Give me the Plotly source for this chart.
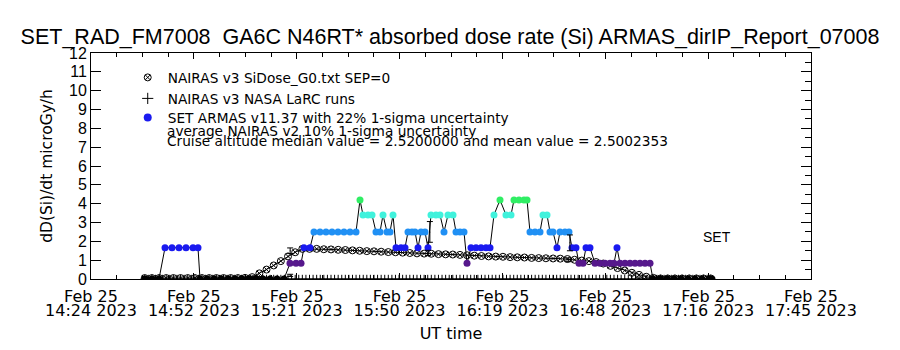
import plotly.graph_objects as go

# ---------------- data (x = minutes after 14:24 UT, 25 Feb 2023) ----------------
tick_pos = [0, 28.714, 57.429, 86.143, 114.857, 143.571, 172.286, 201]
tick_date = ["Feb 25", "Feb 25", "Feb 25", "Feb 25", "Feb 25", "Feb 25", "Feb 25", "Feb 25"]
tick_time = ["14:24 2023", "14:52 2023", "15:21 2023", "15:50 2023",
             "16:19 2023", "16:48 2023", "17:16 2023", "17:45 2023"]
y_ticks = [0, 1, 2, 3, 4, 5, 6, 7, 8, 9, 10, 11, 12]

# NAIRAS v3 SiDose_G0 profile
nairas_t = [15, 17, 19, 21, 23, 25, 27, 29, 31, 33, 35, 37, 39, 41, 43, 45, 47, 49, 51, 53,
            55, 57, 59, 61, 63, 65, 67, 69, 71, 73, 75, 77, 79, 81, 83, 85, 87, 89, 91, 93,
            95, 97, 99, 101, 103, 105, 107, 109, 111, 113, 115, 117, 119, 121, 123, 125, 127, 129, 131, 133,
            135, 137, 139, 141, 143, 145, 147, 149, 151, 153, 155, 157, 159, 161, 163, 165, 167, 169, 171, 173]
nairas_v = [0.05, 0.05, 0.05, 0.05, 0.05, 0.05, 0.05, 0.05, 0.05, 0.05, 0.05, 0.05, 0.05, 0.05, 0.06, 0.10, 0.30, 0.50, 0.72, 0.95,
            1.20, 1.42, 1.60, 1.60, 1.60, 1.58, 1.57, 1.55, 1.54, 1.52, 1.50, 1.48, 1.47, 1.45, 1.43, 1.42, 1.40, 1.38, 1.36, 1.35,
            1.34, 1.32, 1.31, 1.30, 1.28, 1.26, 1.24, 1.22, 1.20, 1.19, 1.18, 1.16, 1.15, 1.14, 1.12, 1.11, 1.10, 1.09, 1.08, 1.06,
            1.02, 0.98, 0.95, 0.90, 0.82, 0.70, 0.58, 0.45, 0.33, 0.22, 0.12, 0.06, 0.03, 0.03, 0.03, 0.03, 0.03, 0.03, 0.03, 0.03]

# NAIRAS v3 NASA LaRC runs (plotted at zero level)
larc_t = [15, 16, 17, 18, 19, 20, 21, 22, 23, 24, 25, 26, 27, 28, 29, 30, 31, 32, 33, 34,
          35, 36, 37, 38, 39, 40, 41, 42, 43, 44, 45, 46, 47, 48, 49, 50, 51, 52, 53, 54,
          55, 56, 57, 58, 59, 60, 61, 62, 63, 64, 65, 66, 67, 68, 69, 70, 71, 72, 73, 74,
          75, 76, 77, 78, 79, 80, 81, 82, 83, 84, 85, 86, 87, 88, 89, 90, 91, 92, 93, 94,
          95, 96, 97, 98, 99, 100, 101, 102, 103, 104, 105, 106, 107, 108, 109, 110, 111, 112, 113, 114,
          115, 116, 117, 118, 119, 120, 121, 122, 123, 124, 125, 126, 127, 128, 129, 130, 131, 132, 133, 134,
          135, 136, 137, 138, 139, 140, 141, 142, 143, 144, 145, 146, 147, 148, 149, 150, 151, 152, 153, 154,
          155, 156, 157, 158, 159, 160, 161, 162, 163, 164, 165, 166, 167, 168, 169, 170, 171, 172, 173]
larc_v = [0, 0, 0, 0, 0, 0, 0, 0, 0, 0, 0, 0, 0, 0, 0, 0, 0, 0, 0, 0,
          0, 0, 0, 0, 0, 0, 0, 0, 0, 0, 0, 0, 0, 0, 0, 0, 0, 0, 0, 0,
          0, 0, 0, 0, 0, 0, 0, 0, 0, 0, 0, 0, 0, 0, 0, 0, 0, 0, 0, 0,
          0, 0, 0, 0, 0, 0, 0, 0, 0, 0, 0, 0, 0, 0, 0, 0, 0, 0, 0, 0,
          0, 0, 0, 0, 0, 0, 0, 0, 0, 0, 0, 0, 0, 0, 0, 0, 0, 0, 0, 0,
          0, 0, 0, 0, 0, 0, 0, 0, 0, 0, 0, 0, 0, 0, 0, 0, 0, 0, 0, 0,
          0, 0, 0, 0, 0, 0, 0, 0, 0, 0, 0, 0, 0, 0, 0, 0, 0, 0, 0, 0,
          0, 0, 0, 0, 0, 0, 0, 0, 0, 0, 0, 0, 0, 0, 0, 0, 0, 0, 0]

# SET ARMAS v11.37 measurements
armas_t = [15.07, 17.03, 18.98, 20.66, 22.61, 24.57, 26.52, 28.48, 29.87, 30.43,
           32.38, 34.34, 36.29, 38.25, 40.20, 42.15, 44.11, 46.06, 48.02, 49.97,
           51.93, 53.88, 55.55, 57.23, 58.63, 59.46, 61.14, 62.25, 63.93, 65.60,
           67.28, 68.95, 70.63, 72.30, 73.98, 75.10, 75.93, 77.33, 78.45, 79.56,
           80.68, 81.52, 82.63, 83.47, 84.31, 85.15, 86.54, 87.66, 88.50, 89.61,
           90.45, 91.29, 92.13, 93.24, 94.08, 94.92, 96.31, 97.43, 98.55, 99.66,
           101.06, 101.90, 103.01, 104.13, 104.97, 106.08, 107.48, 108.88, 110.27, 111.39,
           112.50, 114.18, 115.85, 117.25, 118.09, 119.48, 120.88, 121.72, 122.55, 123.95,
           125.35, 126.18, 127.30, 128.14, 128.97, 130.09, 130.93, 132.32, 133.44, 134.28,
           135.39, 136.23, 137.35, 138.19, 139.30, 140.70, 142.10, 143.49, 144.89, 146.00,
           146.84, 147.68, 149.07, 150.47, 151.87, 153.26, 154.66, 156.06, 156.89, 158.85,
           160.80, 162.76, 164.71, 166.66, 168.62, 170.57, 172.52, 173.36]
armas_v = [0, 0, 0, 1.66, 1.66, 1.66, 1.66, 1.66, 1.66, 0,
           0, 0, 0, 0, 0, 0, 0, 0, 0, 0,
           0, 0, 0.83, 0.83, 0.83, 1.66, 1.66, 2.5, 2.5, 2.5,
           2.5, 2.5, 2.5, 2.5, 2.5, 4.2, 3.4, 3.4, 3.4, 2.5,
           2.5, 3.4, 2.5, 2.5, 3.4, 1.66, 1.66, 1.66, 2.5, 2.5,
           2.5, 1.66, 2.5, 2.5, 1.66, 3.4, 3.4, 3.4, 2.5, 3.4,
           3.4, 2.5, 2.5, 2.5, 0.83, 1.66, 1.66, 1.66, 1.66, 1.66,
           3.4, 4.2, 3.4, 3.4, 4.2, 4.2, 4.2, 4.2, 2.5, 2.5,
           2.5, 3.4, 3.4, 2.5, 2.5, 1.66, 2.5, 2.5, 2.5, 1.66,
           1.66, 0.83, 0.83, 1.66, 1.66, 0.83, 0.83, 0.83, 0.83, 0.83,
           1.66, 0.83, 0.83, 0.83, 0.83, 0.83, 0.83, 0.83, 0, 0,
           0, 0, 0, 0, 0, 0, 0, 0]

# uncertainty bars
big_err_t = [94.6, 133.7]
big_err_v = [2.5, 1.92]
big_err_e = [0.55, 0.42]
small_err_t = [55.6, 55.6, 94.1, 133.2]
small_err_v = [1.5, 0.19, 1.38, 1.02]
small_err_e = [0.15, 0.06, 0.14, 0.10]

legend_names = ["NAIRAS v3 SiDose_G0.txt SEP=0",
                "NAIRAS v3 NASA LaRC runs",
                "SET ARMAS v11.37 with 22% 1-sigma uncertainty"]
note_lines = ["average NAIRAS v2 10% 1-sigma uncertainty",
              "Cruise altitude median value = 2.5200000 and mean value = 2.5002353"]
title_text = "SET_RAD_FM7008  GA6C N46RT* absorbed dose rate (Si) ARMAS_dirIP_Report_07008"

# ---------------- figure ----------------
FONT = "Liberation Sans"
WIDE = "DejaVu Sans"
armas_scale = [[0.0, "#000000"], [0.1976, "#56188c"], [0.395, "#1a1af0"],
               [0.595, "#2090f4"], [0.81, "#40f2dc"], [1.0, "#30ee64"]]

fig = go.Figure()

# legend-only entries (symbols only, like the reference), one legend box per line
fig.add_trace(go.Scatter(x=[None], y=[None], mode="markers", name=legend_names[0], legend="legend",
                         marker=dict(symbol="circle-x-open", size=7, color="black", line=dict(width=1))))
fig.add_trace(go.Scatter(x=[None], y=[None], mode="markers", name=legend_names[1], legend="legend2",
                         marker=dict(symbol="cross-thin-open", size=8, color="black", line=dict(width=1, color="black"))))
fig.add_trace(go.Scatter(x=[None], y=[None], mode="markers", name=legend_names[2], legend="legend3",
                         marker=dict(symbol="circle", size=8, color="#1a1af0")))

fig.add_trace(go.Scatter(x=larc_t, y=larc_v, mode="markers", showlegend=False,
                         marker=dict(symbol="cross-thin-open", size=6, color="black",
                                     line=dict(width=1, color="black"))))
fig.add_trace(go.Scatter(x=nairas_t, y=nairas_v, mode="lines+markers", showlegend=False,
                         line=dict(color="black", width=1),
                         marker=dict(symbol="circle-x-open", size=7, color="black", line=dict(width=1))))
fig.add_trace(go.Scatter(x=armas_t, y=armas_v, mode="lines+markers", showlegend=False,
                         line=dict(color="black", width=1),
                         marker=dict(symbol="circle", size=7, color=armas_v, colorscale=armas_scale,
                                     cmin=0, cmax=4.2, showscale=False)))
fig.add_trace(go.Scatter(x=big_err_t, y=big_err_v, mode="markers", showlegend=False, yaxis="y2",
                         marker=dict(size=1, color="black"),
                         error_y=dict(type="data", array=big_err_e, color="black", thickness=1, width=3)))
fig.add_trace(go.Scatter(x=small_err_t, y=small_err_v, mode="markers", showlegend=False, xaxis="x2",
                         marker=dict(size=1, color="black"),
                         error_y=dict(type="data", array=small_err_e, color="black", thickness=1, width=3)))

leg_common = dict(x=0.051, xanchor="left", yanchor="top", bgcolor="rgba(0,0,0,0)",
                  font=dict(family=WIDE, size=13.7), tracegroupgap=0)

fig.update_layout(
    width=900, height=350,
    margin=dict(l=91, r=89, t=53, b=71),
    paper_bgcolor="white", plot_bgcolor="white",
    font=dict(family=FONT, color="black"),
    title=dict(text=title_text, x=0.5, xref="container", xanchor="center",
               y=1 - 36 / 350, yref="container", yanchor="middle",
               font=dict(family=FONT, size=21.5, color="black")),
    xaxis=dict(range=[0, 201], tickmode="array", tickvals=tick_pos, ticktext=tick_date,
               ticks="inside", ticklen=6, tickcolor="black", mirror="ticks",
               showline=True, linecolor="black", linewidth=1, showgrid=False, zeroline=False,
               tickfont=dict(family=WIDE, size=16), ticklabelstandoff=3,
               minor=dict(tickmode="linear", tick0=0, dtick=201 / 28, ticks="inside",
                          ticklen=4, tickcolor="black", showgrid=False)),
    xaxis2=dict(range=[0, 201], overlaying="x", anchor="y", side="bottom",
                tickmode="array", tickvals=tick_pos, ticktext=tick_time, ticks="",
                showline=False, showgrid=False, zeroline=False,
                tickfont=dict(family=WIDE, size=16), ticklabelstandoff=20,
                title=dict(text="UT time", font=dict(family=WIDE, size=16), standoff=8)),
    yaxis=dict(range=[0, 12], tickmode="array", tickvals=y_ticks, ticks="inside", ticklen=10,
               tickcolor="black", mirror="ticks", showline=True, linecolor="black", linewidth=1,
               showgrid=False, zeroline=False, tickfont=dict(family=FONT, size=16),
               title=dict(text="dD(Si)/dt microGy/h", font=dict(family=WIDE, size=15.5), standoff=12)),
    yaxis2=dict(range=[0, 12], overlaying="y", anchor="x", side="right", dtick=0.5,
                ticks="inside", ticklen=6, tickcolor="black", showticklabels=False,
                showline=False, showgrid=False, zeroline=False),
    showlegend=True,
    legend=dict(y=(279 - 62) / 226, **leg_common),
    legend2=dict(y=(279 - 83) / 226, **leg_common),
    legend3=dict(y=(279 - 102) / 226, **leg_common),
    annotations=[
        dict(text=note_lines[0], xref="paper", yref="paper", x=(165 - 91) / 720, y=(279 - 131) / 226,
             xanchor="left", yanchor="middle", showarrow=False, font=dict(family=WIDE, size=13.7)),
        dict(text=note_lines[1], xref="paper", yref="paper", x=(165 - 91) / 720, y=(279 - 141) / 226,
             xanchor="left", yanchor="middle", showarrow=False, font=dict(family=WIDE, size=13.7)),
        dict(text="SET", xref="x", yref="y", x=174.8, y=2.23, xanchor="center", yanchor="middle",
             showarrow=False, font=dict(family=FONT, size=14)),
    ],
)

fig.write_html("out.html")
